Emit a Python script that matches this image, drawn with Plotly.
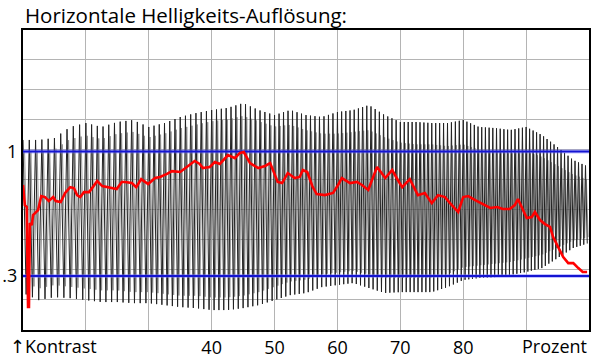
import numpy as np
import plotly.graph_objects as go

# ---------------- data ----------------
title_text = "Horizontale Helligkeits-Auflösung:"
x_tick_vals = [40, 50, 60, 70, 80]
x_tick_text = ["40", "50", "60", "70", "80"]
y_tick_vals = [0.3, 1.0]
y_tick_text = [".3", "1"]
ref_levels = [1.0, 0.3]

# red curve: measured contrast vs. percent
red_pct = [10.0, 10.3, 10.6, 10.8, 10.95, 11.1, 11.4, 11.6, 12.4, 12.9, 13.5, 14.1, 14.8, 15.2,
           16.0, 16.7, 17.5, 18.1, 18.6, 19.1, 19.7, 20.5, 21.1, 21.8, 22.6, 23.5, 24.9, 25.7,
           26.2, 27.3, 28.0, 28.8, 29.9, 31.0, 31.8, 32.9, 33.7, 35.0, 36.2, 37.3, 38.1, 38.6,
           39.7, 40.5, 41.3, 42.6, 43.7, 44.5, 45.1, 46.1, 47.4, 48.5, 49.3, 50.5, 51.2, 52.1,
           53.2, 54.0, 54.5, 55.2, 56.0, 56.7, 58.0, 59.3, 60.1, 60.7, 62.0, 63.1, 63.9, 64.9,
           65.5, 66.3, 67.6, 68.7, 69.6, 70.3, 71.5, 72.8, 73.9, 75.0, 76.0, 77.1, 77.9, 79.2,
           80.0, 80.8, 81.9, 83.1, 84.3, 85.4, 86.3, 87.4, 88.2, 88.7, 89.3, 90.1, 90.9, 91.4,
           92.2, 93.0, 93.8, 94.3, 95.1, 95.9, 96.7, 97.5, 98.3, 99.0, 99.7]
red_con = [0.812, 0.699, 0.688, 0.126, 0.126, 0.598, 0.587, 0.643, 0.671, 0.750, 0.744, 0.722, 0.744, 0.722,
           0.716, 0.767, 0.800, 0.795, 0.755, 0.744, 0.772, 0.772, 0.800, 0.834, 0.806, 0.800, 0.789, 0.829,
           0.829, 0.823, 0.800, 0.845, 0.817, 0.851, 0.857, 0.874, 0.890, 0.885, 0.919, 0.947, 0.930, 0.907,
           0.913, 0.941, 0.930, 0.980, 0.963, 0.992, 0.997, 0.935, 0.907, 0.919, 0.935, 0.829, 0.823, 0.879,
           0.851, 0.857, 0.896, 0.885, 0.806, 0.761, 0.755, 0.767, 0.812, 0.851, 0.823, 0.829, 0.812, 0.784,
           0.840, 0.913, 0.851, 0.896, 0.840, 0.800, 0.845, 0.755, 0.767, 0.710, 0.755, 0.744, 0.710, 0.660,
           0.744, 0.750, 0.727, 0.705, 0.683, 0.688, 0.677, 0.677, 0.699, 0.733, 0.688, 0.626, 0.632, 0.660,
           0.615, 0.592, 0.576, 0.519, 0.463, 0.407, 0.373, 0.373, 0.345, 0.323, 0.323]

# oscillogram envelope (read every 2.5 %)
env_pct = [10, 12.5, 15, 17.5, 20, 22.5, 25, 27.5, 30, 32.5, 35, 37.5, 40, 42.5, 45, 47.5, 50, 52.5,
           55, 57.5, 60, 62.5, 65, 67.5, 70, 72.5, 75, 77.5, 80, 82.5, 85, 87.5, 90, 92.5, 95, 97.5, 100]
env_upper = [1.065, 1.065, 1.076, 1.138, 1.160, 1.138, 1.166, 1.177, 1.138, 1.160, 1.194, 1.216, 1.233,
             1.245, 1.272, 1.233, 1.205, 1.233, 1.205, 1.194, 1.222, 1.233, 1.261, 1.205, 1.166, 1.166,
             1.160, 1.160, 1.177, 1.138, 1.132, 1.121, 1.138, 1.093, 1.025, 0.952, 0.913]
env_lower = [0.205, 0.165, 0.182, 0.176, 0.165, 0.154, 0.154, 0.148, 0.148, 0.137, 0.126, 0.120, 0.109,
             0.109, 0.120, 0.137, 0.165, 0.193, 0.205, 0.238, 0.250, 0.261, 0.233, 0.205, 0.210, 0.210,
             0.210, 0.238, 0.278, 0.289, 0.294, 0.306, 0.323, 0.345, 0.401, 0.458, 0.486]
inner_upper = [1.00, 1.00, 1.01, 1.07, 1.09, 1.07, 1.10, 1.11, 1.08, 1.10, 1.13, 1.15, 1.17, 1.18, 1.20,
               1.17, 1.14, 1.15, 1.12, 1.10, 1.10, 1.11, 1.12, 1.08, 1.05, 1.04, 1.04, 1.03, 1.04, 1.01,
               1.00, 0.99, 1.00, 0.97, 0.92, 0.87, 0.84]
inner_lower = [0.27, 0.23, 0.25, 0.24, 0.23, 0.22, 0.22, 0.21, 0.21, 0.20, 0.19, 0.19, 0.18, 0.18, 0.19,
               0.21, 0.24, 0.27, 0.28, 0.31, 0.32, 0.33, 0.31, 0.29, 0.29, 0.29, 0.29, 0.31, 0.35, 0.36,
               0.37, 0.38, 0.40, 0.42, 0.46, 0.50, 0.52]
cycles_per_decile = [10, 11, 12, 13, 14, 15, 16, 17, 18]

# ---------------- build oscillation ----------------
def oscillation(upper, lower, phase):
    xs, ys = [], []
    for i, n in enumerate(cycles_per_decile):
        x0 = 10 + 10 * i
        steps = 2 * n
        for k in range(steps):
            x = x0 + (k + phase) * 10.0 / steps
            if x > 100:
                continue
            xs.append(x)
            env = upper if k % 2 == 0 else lower
            ys.append(float(np.interp(x, env_pct, env)))
    return xs, ys

gx, gy = oscillation(inner_upper, inner_lower, 0.5)
dx, dy = oscillation(env_upper, env_lower, 0.0)

fig = go.Figure()
fig.add_trace(go.Scatter(x=gx, y=gy, mode="lines", line=dict(color="#8c8c8c", width=0.9)))
fig.add_trace(go.Scatter(x=dx, y=dy, mode="lines", line=dict(color="#222222", width=1.0)))
for lv in ref_levels:
    fig.add_trace(go.Scatter(x=[10, 100], y=[lv, lv], mode="lines",
                             line=dict(color="rgba(120,120,255,0.45)", width=4)))
    fig.add_trace(go.Scatter(x=[10, 100], y=[lv, lv], mode="lines",
                             line=dict(color="#1414d2", width=2)))
fig.add_trace(go.Scatter(x=red_pct, y=red_con, mode="lines",
                         line=dict(color="#ff0000", width=2.6)))

y_top = 1.683
grid_y = [y_top * k / 10 for k in range(1, 10)]
font_family = "Open Sans, DejaVu Sans, sans-serif"

fig.update_layout(
    width=600, height=364,
    margin=dict(l=23, r=11, t=30, b=34),
    paper_bgcolor="white", plot_bgcolor="white",
    showlegend=False, hovermode=False,
    font=dict(family=font_family, size=18, color="black"),
)
fig.update_xaxes(
    range=[10, 100], showgrid=False, zeroline=False, automargin=False,
    tickmode="array", tickvals=x_tick_vals, ticktext=x_tick_text, ticks="",
    showline=True, linecolor="black", linewidth=2, mirror=True,
    minor=dict(tickmode="array", tickvals=[20, 30, 40, 50, 60, 70, 80, 90],
               showgrid=True, gridcolor="#b4b4b4", gridwidth=1, ticks=""),
    tickfont=dict(size=18),
)
fig.update_yaxes(
    range=[-0.003, y_top], showgrid=False, zeroline=False, automargin=False,
    tickmode="array", tickvals=y_tick_vals, ticktext=y_tick_text, ticks="",
    showline=True, linecolor="black", linewidth=2, mirror=True,
    minor=dict(tickmode="array", tickvals=grid_y,
               showgrid=True, gridcolor="#b4b4b4", gridwidth=1, ticks=""),
    tickfont=dict(size=18),
)
fig.add_annotation(text=title_text, xref="paper", yref="paper", x=0, y=1,
                   xanchor="left", yanchor="bottom", yshift=-1, showarrow=False,
                   font=dict(size=20.5, family=font_family))
fig.add_annotation(text="↑Kontrast", xref="paper", yref="paper", x=-15 / 566, y=0,
                   xanchor="left", yanchor="top", yshift=-2, showarrow=False,
                   font=dict(size=18, family=font_family))
fig.add_annotation(text="Prozent", xref="paper", yref="paper", x=1, y=0,
                   xanchor="right", yanchor="top", yshift=-2, showarrow=False,
                   font=dict(size=18, family=font_family))

fig.write_html("out.html", config={"displayModeBar": False, "staticPlot": True},
               post_script="document.body.style.margin='0';")
